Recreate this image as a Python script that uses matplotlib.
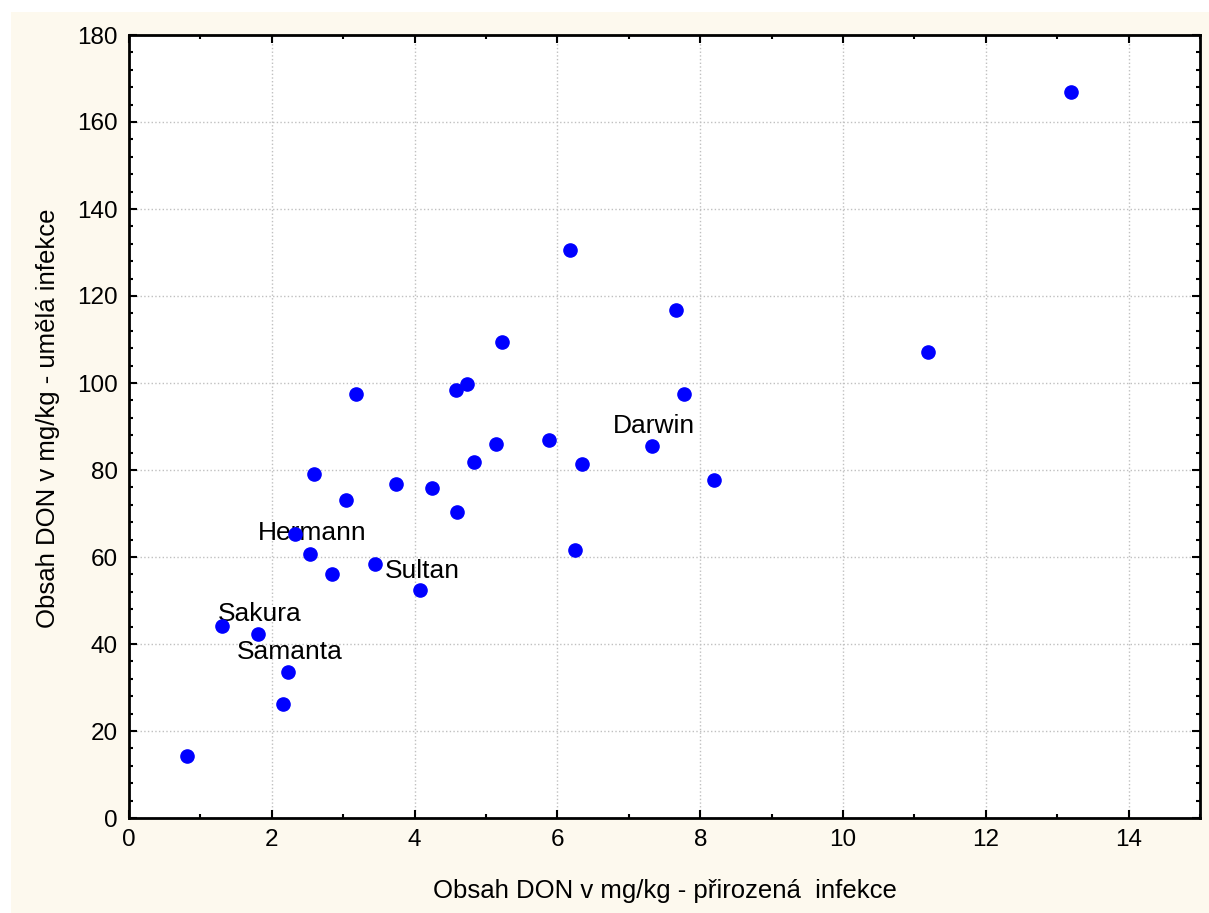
import matplotlib.pyplot as plt
from matplotlib.patches import Rectangle
from matplotlib.ticker import MultipleLocator

plt.rcParams['font.family'] = ['Liberation Sans', 'DejaVu Sans']

# DON obsah: prirozena infekce (x) vs umela infekce (y)
don_prirozena = [0.81, 1.30, 1.80, 2.15, 2.22, 2.33, 2.54, 2.59, 2.85, 3.04,
                 3.18, 3.45, 3.74, 4.07, 4.24, 4.58, 4.60, 4.74, 4.83, 5.14,
                 5.22, 5.88, 6.18, 6.24, 6.35, 7.32, 7.66, 7.77, 8.19, 11.19, 13.20]
don_umela = [14.3, 44.1, 42.3, 26.2, 33.6, 65.3, 60.7, 79.1, 56.1, 73.1,
             97.5, 58.4, 76.8, 52.4, 75.9, 98.4, 70.3, 99.8, 81.8, 86.0,
             109.4, 86.9, 130.6, 61.6, 81.4, 85.5, 116.8, 97.5, 77.7, 107.1, 166.9]

odrudy = ['Hermann', 'Sultan', 'Sakura', 'Samanta', 'Darwin']
odrudy_x = [1.81, 3.58, 1.25, 1.51, 6.78]
odrudy_y = [65.5, 56.8, 46.9, 38.2, 90.1]

fig = plt.figure(figsize=(12.09, 9.13), dpi=100, facecolor='white')
pozadi = Rectangle((11 / 1209, 0), 1 - 11 / 1209, 1 - 12 / 913,
                   transform=fig.transFigure, facecolor='#fdf9ee',
                   edgecolor='none', zorder=-10)
fig.add_artist(pozadi)

ax = fig.add_axes([129 / 1209, 1 - 818 / 913, 1071 / 1209, 783 / 913])
ax.set_zorder(5)
ax.set_facecolor('white')
ax.plot(don_prirozena, don_umela, 'o', color='#0000ff', markersize=9.5,
        clip_on=False, zorder=3)

for name, tx, ty in zip(odrudy, odrudy_x, odrudy_y):
    ax.text(tx, ty, name, fontsize=19, ha='left', va='center', zorder=2)

ax.set_xlim(0, 15)
ax.set_ylim(0, 180)
ax.xaxis.set_major_locator(MultipleLocator(2))
ax.xaxis.set_minor_locator(MultipleLocator(1))
ax.yaxis.set_major_locator(MultipleLocator(20))
ax.yaxis.set_minor_locator(MultipleLocator(4))
ax.tick_params(which='both', direction='in', top=True, right=True, width=1.5)
ax.tick_params(which='major', length=6, labelsize=17.5, pad=8)
ax.tick_params(which='minor', length=3)
ax.grid(True, which='major', linestyle=':', color='#c0c0c0', linewidth=1)
ax.set_axisbelow(True)
for s in ax.spines.values():
    s.set_linewidth(2)

ax.set_xlabel('Obsah DON v mg/kg - přirozená  infekce', fontsize=18.5, labelpad=20)
ax.set_ylabel('Obsah DON v mg/kg - umělá infekce', fontsize=18.5)
ax.yaxis.set_label_coords(-0.064, 0.51)

fig.savefig('out.png', dpi=100, facecolor=fig.get_facecolor())
